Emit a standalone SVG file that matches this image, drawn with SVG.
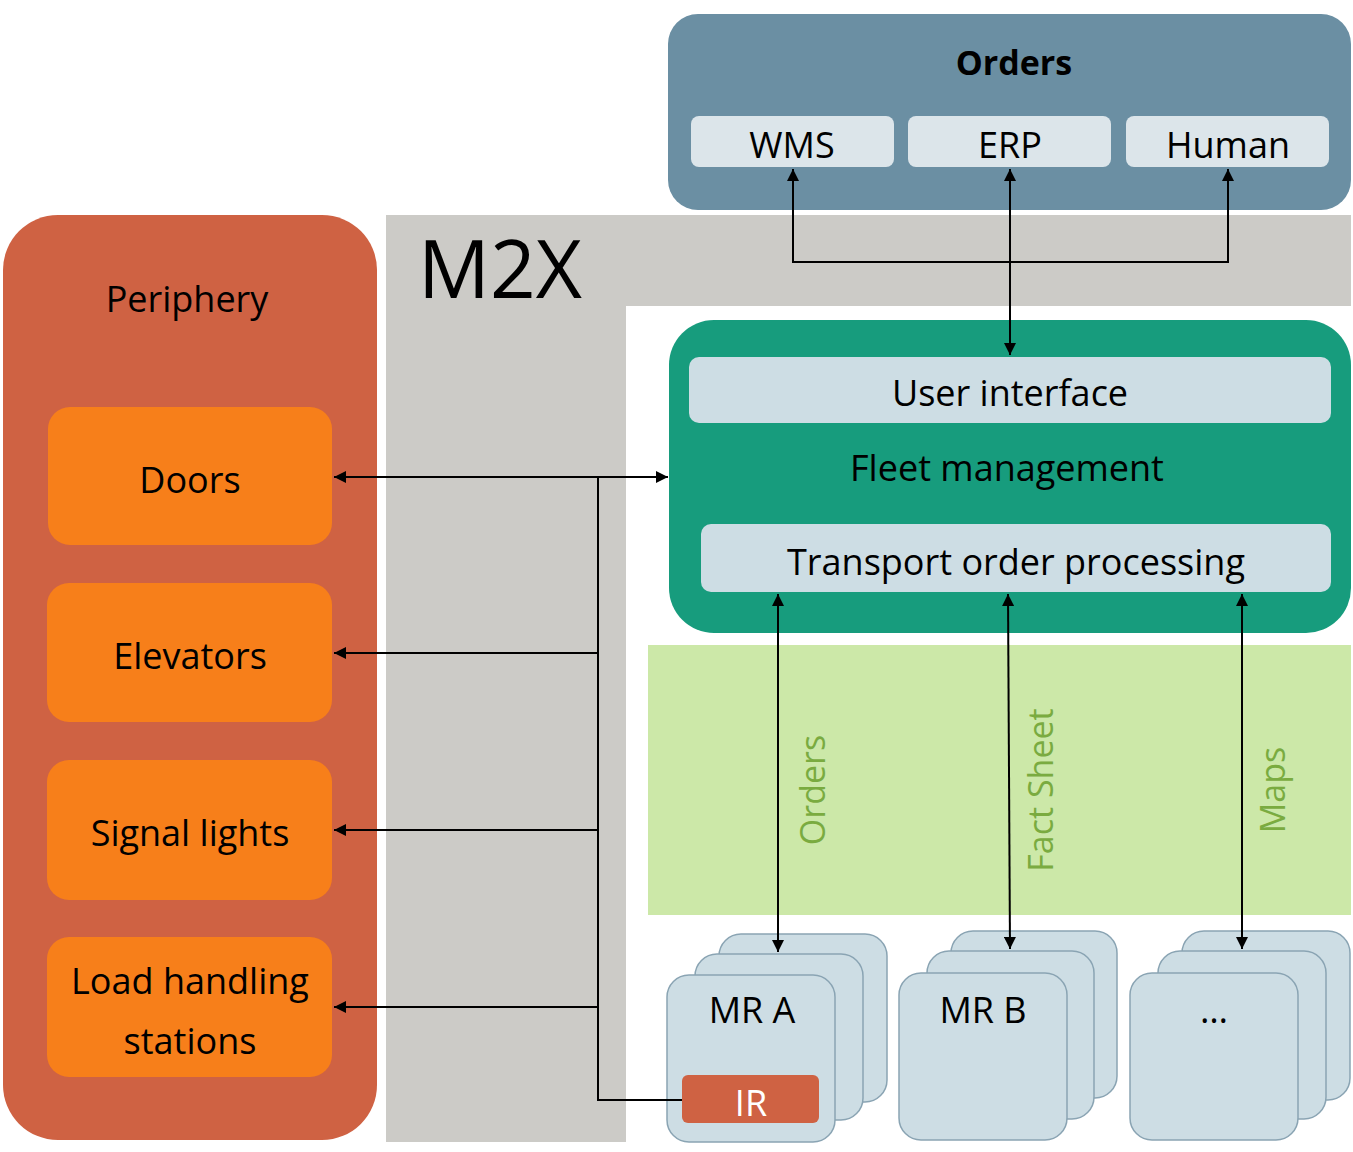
<svg xmlns="http://www.w3.org/2000/svg" width="1353" height="1152" viewBox="0 0 1353 1152">
<defs>
<marker id="a" viewBox="0 0 10 10" refX="10" refY="5" markerWidth="12" markerHeight="12" markerUnits="userSpaceOnUse" orient="auto-start-reverse"><path d="M0,0 L10,5 L0,10 z" fill="#000"/></marker>
<style>
text{font-family:"Open Sans","Noto Sans",sans-serif;text-anchor:middle}
.lb{fill:#dce5ea}
.card{fill:#cddde4;stroke:#8aa4b3;stroke-width:1.5}
.per{fill:#f77f1a}
.c{fill:none;stroke:#000;stroke-width:2}
.g{fill:#7aab40;font-size:34px}
</style>
</defs>
<rect width="1353" height="1152" fill="#fff"/>
<g id="m2x"><path d="M386,215 H1351 V306 H626 V1142 H386 Z" fill="#cccbc7"/><text x="500" y="298" font-size="80">M2X</text></g>
<g id="orders"><rect x="668" y="14" width="683" height="196" rx="30" fill="#6b8fa3"/><text x="1014" y="75" font-size="34" font-weight="bold">Orders</text>
<rect class="lb" x="691" y="116" width="203" height="51" rx="8"/><text x="792" y="158" font-size="36">WMS</text>
<rect class="lb" x="908" y="116" width="203" height="51" rx="8"/><text x="1010" y="158" font-size="36">ERP</text>
<rect class="lb" x="1126" y="116" width="203" height="51" rx="8"/><text x="1228" y="158" font-size="36">Human</text></g>
<g id="periphery"><rect x="3" y="215" width="374" height="925" rx="55" fill="#cf6243"/><text x="187" y="312" font-size="36">Periphery</text>
<rect class="per" x="48" y="407" width="284" height="138" rx="22"/><text x="190" y="493" font-size="36">Doors</text>
<rect class="per" x="47" y="583" width="285" height="139" rx="22"/><text x="190" y="669" font-size="36">Elevators</text>
<rect class="per" x="47" y="760" width="285" height="140" rx="22"/><text x="190" y="846" font-size="36">Signal lights</text>
<rect class="per" x="47" y="937" width="285" height="140" rx="22"/><text x="190" y="994" font-size="36">Load handling</text><text x="190" y="1054" font-size="36">stations</text></g>
<g id="fleet"><rect x="669" y="320" width="682" height="313" rx="45" fill="#179c7d"/>
<rect x="689" y="357" width="642" height="66" rx="10" fill="#cddde4"/><text x="1010" y="406" font-size="36">User interface</text>
<text x="1007" y="481" font-size="36">Fleet management</text>
<rect x="701" y="524" width="630" height="68" rx="10" fill="#cddde4"/><text x="1016" y="575" font-size="36">Transport order processing</text></g>
<g id="channel"><rect x="648" y="645" width="703" height="270" fill="#cce8a8"/>
<text class="g" transform="translate(825,790) rotate(-90)">Orders</text>
<text class="g" transform="translate(1053,790) rotate(-90)">Fact Sheet</text>
<text class="g" transform="translate(1285,790) rotate(-90)">Maps</text></g>
<g id="mra"><rect class="card" x="719" y="934" width="168" height="168" rx="22"/><rect class="card" x="695" y="954" width="168" height="166" rx="22"/><rect class="card" x="667" y="975" width="168" height="167" rx="22"/><text x="752" y="1023" font-size="36">MR A</text>
<rect x="682" y="1075" width="137" height="48" rx="6" fill="#cf6243"/><text x="751" y="1116" font-size="36" fill="#fff">IR</text></g>
<g id="mrb"><rect class="card" x="951" y="931" width="166" height="167" rx="22"/><rect class="card" x="927" y="951" width="167" height="168" rx="22"/><rect class="card" x="899" y="973" width="168" height="167" rx="22"/><text x="983" y="1023" font-size="36">MR B</text></g>
<g id="mrn"><rect class="card" x="1182" y="931" width="168" height="169" rx="22"/><rect class="card" x="1158" y="951" width="168" height="168" rx="22"/><rect class="card" x="1130" y="973" width="168" height="167" rx="22"/><text x="1214" y="1023" font-size="36">…</text></g>
<g id="connectors">
<path class="c" d="M793,169 V262 H1228 V169" marker-start="url(#a)" marker-end="url(#a)"/>
<path class="c" d="M1010,169 V355" marker-start="url(#a)" marker-end="url(#a)"/>
<path class="c" d="M334,477 H668" marker-start="url(#a)" marker-end="url(#a)"/>
<path class="c" d="M598,477 V1100 H682"/>
<path class="c" d="M598,653 H334" marker-end="url(#a)"/>
<path class="c" d="M598,830 H334" marker-end="url(#a)"/>
<path class="c" d="M598,1007 H334" marker-end="url(#a)"/>
<path class="c" d="M778,594 V952" marker-start="url(#a)" marker-end="url(#a)"/>
<path class="c" d="M1008,594 L1010,949" marker-start="url(#a)" marker-end="url(#a)"/>
<path class="c" d="M1242,594 V949" marker-start="url(#a)" marker-end="url(#a)"/>
</g>
</svg>
